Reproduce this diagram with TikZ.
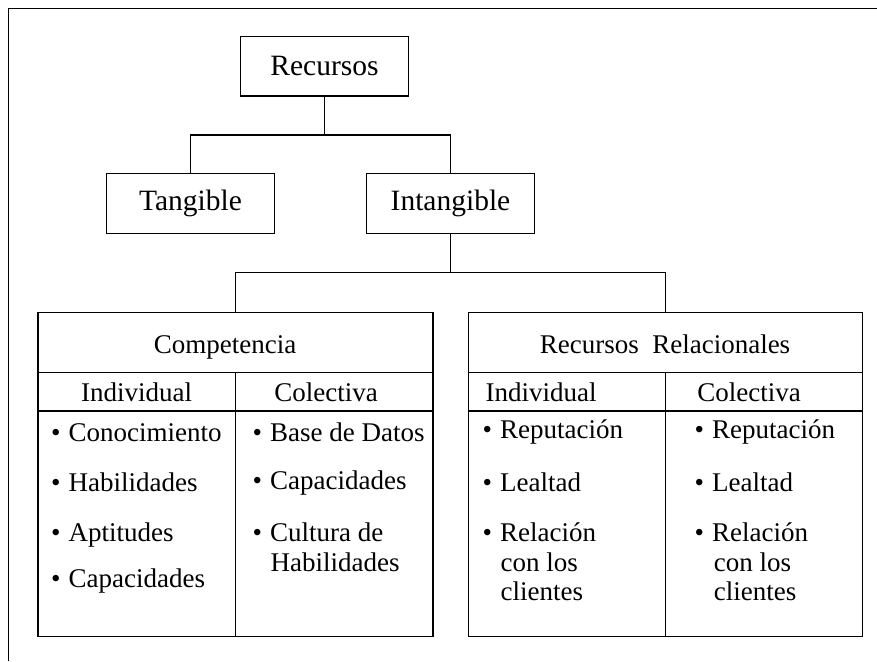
\documentclass[tikz,border=0pt]{standalone}
\usepackage{fontspec}
\setmainfont{Liberation Serif}
\begin{document}
\begin{tikzpicture}[x=1pt, y=-1pt, line width=1.3pt,
  topbox/.style={draw, minimum width=167.6pt, minimum height=59.5pt, inner sep=0pt,
    font=\fontsize{29.5}{34}\selectfont},
  bigbox/.style={draw, inner sep=0pt, minimum height=324pt},
  lbl/.style={inner sep=0pt, anchor=base, font=\fontsize{27}{30}\selectfont},
  itm/.style={inner sep=0pt, anchor=base west, font=\fontsize{27}{30}\selectfont}
]
\useasboundingbox (0,0) rectangle (877,661);

% outer frame (open on the right and at the bottom)
\draw[line width=1pt] (8.3,661) -- (8.3,9) -- (877,9);

% hierarchy boxes
\node[topbox] (rec) at (324.5,66.3) {Recursos};
\node[topbox] (tan) at (190.5,203.5) {Tangible};
\node[topbox] (int) at (450.5,203.5) {Intangible};
\coordinate (j1) at (324.5,135);
\coordinate (j2) at (450.5,272.7);

% the two tables
\node[bigbox, minimum width=395pt] (comp) at (235.5,474.7) {};
\node[bigbox, minimum width=394.4pt] (rel) at (665.5,474.7) {};

\foreach \t in {comp,rel}{
  \draw ([yshift=-60.6pt]\t.north west) -- ([yshift=-60.6pt]\t.north east);
  \draw ([yshift=-99pt]\t.north west) -- ([yshift=-99pt]\t.north east);
  \draw ([yshift=-60.6pt]\t.north) -- (\t.south);
}

% connectors
\draw (rec.south) -- (j1);
\draw (j1) -| (tan.north);
\draw (j1) -| (int.north);
\draw (int.south) -- (j2);
\draw (j2) -| (comp.north);
\draw (j2) -| (rel.north);

% table headings
\node[lbl] (compT) at (225,353) {Competencia};
\node[lbl] (compI) at (136.7,401.7) {Individual};
\node[lbl] (compC) at (326,401.7) {Colectiva};
\node[lbl] (relT) at (665,353) {Recursos~~Relacionales};
\node[lbl, anchor=base west] (relI) at (485,401.7) {Individual};
\node[lbl, anchor=base west] (relC) at (696.7,401.7) {Colectiva};

% Competencia / Individual
\node[itm] (c1) at (50.5,441.7) {\textbullet\hspace{8pt}Conocimiento};
\node[itm] (c2) at (50.5,491.7) {\textbullet\hspace{8pt}Habilidades};
\node[itm] (c3) at (50.5,541.7) {\textbullet\hspace{8pt}Aptitudes};
\node[itm] (c4) at (50.5,587.7) {\textbullet\hspace{8pt}Capacidades};

% Competencia / Colectiva
\node[itm] (d1) at (252,441.7) {\textbullet\hspace{8pt}Base de Datos};
\node[itm] (d2) at (252,489.3) {\textbullet\hspace{8pt}Capacidades};
\node[itm] (d3) at (252,541.7) {\textbullet\hspace{8pt}Cultura de};
\node[itm] (d3b) at (270,571.7) {Habilidades};

% Recursos Relacionales / Individual
\node[itm] (r1) at (482,438.3) {\textbullet\hspace{8pt}Reputación};
\node[itm] (r2) at (482,491.7) {\textbullet\hspace{8pt}Lealtad};
\node[itm] (r3) at (482,541.7) {\textbullet\hspace{8pt}Relación};
\node[itm] (r3b) at (500,571.7) {con los};
\node[itm] (r3c) at (500,600) {clientes};

% Recursos Relacionales / Colectiva
\node[itm] (s1) at (694,438.3) {\textbullet\hspace{8pt}Reputación};
\node[itm] (s2) at (694,491.7) {\textbullet\hspace{8pt}Lealtad};
\node[itm] (s3) at (694,541.7) {\textbullet\hspace{8pt}Relación};
\node[itm] (s3b) at (713.3,571.7) {con los};
\node[itm] (s3c) at (713.3,600) {clientes};
\end{tikzpicture}
\end{document}
